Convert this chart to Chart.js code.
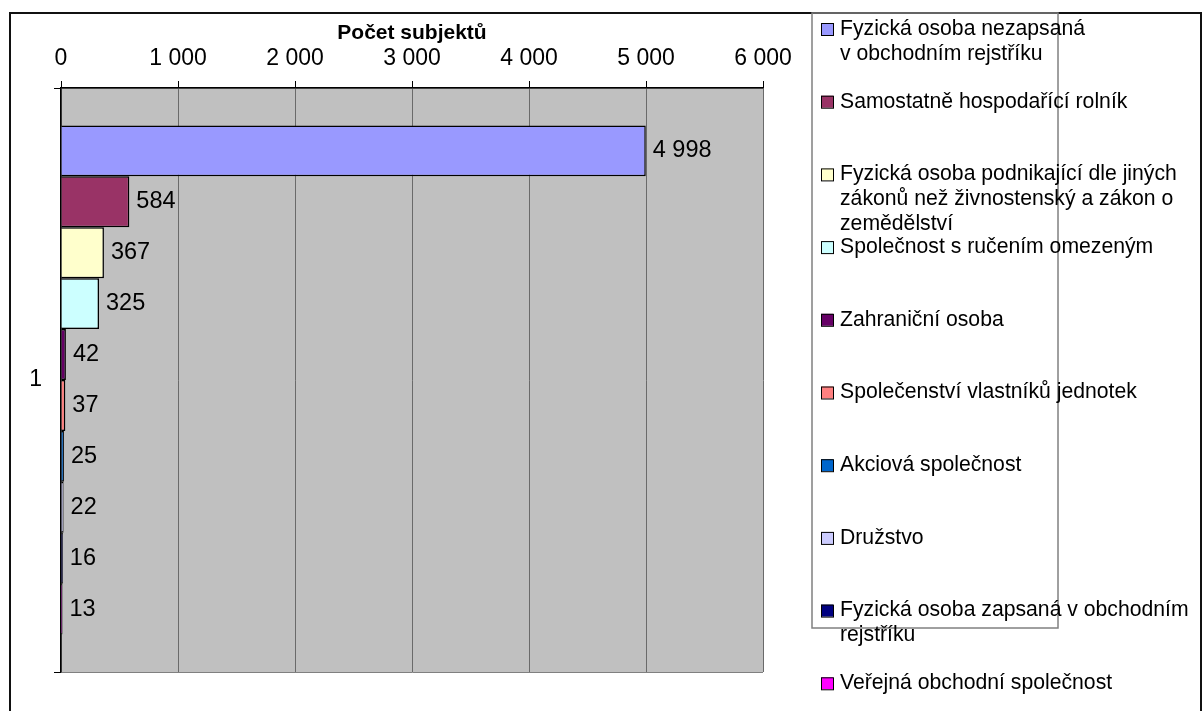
<!DOCTYPE html>
<html>
<head>
<meta charset="utf-8">
<script src="https://cdn.jsdelivr.net/npm/chart.js@4"></script>
<style>
  html, body { margin: 0; padding: 0; background: #fff; }
  #wrap { width: 1202px; height: 711px; position: relative; }
</style>
</head>
<body>
<div id="wrap"><canvas id="c"></canvas></div>
<script>
// Počet subjektů podle právní formy - jeden sloupec, deset řad.
const categories = ["1"];
const seriesNames = [
  ["Fyzická osoba nezapsaná", "v obchodním rejstříku"],
  ["Samostatně hospodařící rolník"],
  ["Fyzická osoba podnikající dle jiných", "zákonů než živnostenský a zákon o", "zemědělství"],
  ["Společnost s ručením omezeným"],
  ["Zahraniční osoba"],
  ["Společenství vlastníků jednotek"],
  ["Akciová společnost"],
  ["Družstvo"],
  ["Fyzická osoba zapsaná v obchodním", "rejstříku"],
  ["Veřejná obchodní společnost"],
];
const seriesValues = [4998, 584, 367, 325, 42, 37, 25, 22, 16, 13];
const seriesColors = [
  "#9999FF", "#993366", "#FFFFCC", "#CCFFFF", "#660066",
  "#FF8080", "#0066CC", "#CCCCFF", "#000080", "#FF00FF",
];
const xTicks = [0, 1000, 2000, 3000, 4000, 5000, 6000];
const axisTitle = "Počet subjektů";

const FONT = "'Liberation Sans', Arial, sans-serif";

// mezera jako oddělovač tisíců: 4 998
function fmt(v) { return String(v).replace(/\B(?=(\d{3})+(?!\d))/g, " "); }

// ------------------------------------------------------------ pomocné pluginy
const plotBg = {
  id: "plotBg",
  beforeDraw(chart) {
    const { ctx, chartArea: a } = chart;
    ctx.save();
    ctx.fillStyle = "#C0C0C0";
    ctx.fillRect(a.left, a.top, a.right - a.left, a.bottom - a.top);
    ctx.restore();
  },
};

const valueLabels = {
  id: "valueLabels",
  afterDatasetsDraw(chart) {
    const ctx = chart.ctx;
    ctx.save();
    ctx.font = "23.5px " + FONT;
    ctx.fillStyle = "#000";
    ctx.textBaseline = "middle";
    ctx.textAlign = "left";
    chart.data.datasets.forEach((ds, i) => {
      const el = chart.getDatasetMeta(i).data[0];
      if (el) ctx.fillText(fmt(ds.data[0]), el.x + 7, el.y);
    });
    ctx.restore();
  },
};

const frameAndLegend = {
  id: "frameAndLegend",
  afterDraw(chart) {
    const ctx = chart.ctx;
    ctx.save();
    // vnější rámeček grafu
    ctx.strokeStyle = "#111";
    ctx.lineWidth = 2;
    ctx.strokeRect(10, 13, 1191, 800);
    // rámeček legendy (text z něj přetéká, jako v originále)
    ctx.strokeStyle = "#808080";
    ctx.lineWidth = 1.5;
    ctx.strokeRect(812, 13, 246, 615);

    ctx.font = "21.2px " + FONT;
    ctx.textBaseline = "middle";
    ctx.textAlign = "left";
    chart.data.datasets.forEach((ds, i) => {
      const y0 = 29 + i * 72.7;
      ctx.fillStyle = ds.backgroundColor;
      ctx.fillRect(821, y0 - 6, 12, 12);
      ctx.strokeStyle = "#000";
      ctx.lineWidth = 1;
      ctx.strokeRect(821.5, y0 - 5.5, 12, 12);
      ctx.fillStyle = "#000";
      seriesNames[i].forEach((line, k) => ctx.fillText(line, 840, y0 + k * 25));
    });
    ctx.restore();
  },
};

// ------------------------------------------------------------------- graf
new Chart(document.getElementById("c"), {
  type: "bar",
  data: {
    labels: categories,
    datasets: seriesValues.map((v, i) => ({
      label: seriesNames[i].join(" "),
      data: [v],
      backgroundColor: seriesColors[i],
      borderColor: "#000",
      borderWidth: 1.5,
      borderSkipped: "start",
      categoryPercentage: 0.872,
      barPercentage: 1.0,
    })),
  },
  options: {
    indexAxis: "y",
    responsive: true,
    maintainAspectRatio: false,
    animation: false,
    layout: { padding: { left: 0, top: 0, right: 439, bottom: 39 } },
    plugins: { legend: { display: false }, tooltip: { enabled: false } },
    scales: {
      x: {
        type: "linear",
        position: "top",
        min: 0, max: 6000,
        afterBuildTicks: (s) => { s.ticks = xTicks.map(v => ({ value: v })); },
        afterFit: (s) => { s.height = 88; },
        ticks: {
          callback: (v) => fmt(v),
          color: "#000",
          font: { family: FONT, size: 23 },
          padding: 9,
          maxRotation: 0,
        },
        grid: { color: "#6a6a6a", tickColor: "#000", tickLength: 7, lineWidth: 1 },
        border: { color: "#000", width: 1.5 },
        title: {
          display: true,
          text: axisTitle,
          color: "#000",
          font: { family: FONT, size: 21, weight: "bold" },
          padding: { top: 21, bottom: 0 },
        },
      },
      y: {
        type: "category",
        afterFit: (s) => { s.width = 61; },
        ticks: { color: "#000", font: { family: FONT, size: 23 }, padding: 12 },
        grid: { offset: true, color: "#808080", tickColor: "#000", tickLength: 7 },
        border: { color: "#000", width: 1.5 },
      },
    },
  },
  plugins: [plotBg, valueLabels, frameAndLegend],
});
</script>
</body>
</html>
